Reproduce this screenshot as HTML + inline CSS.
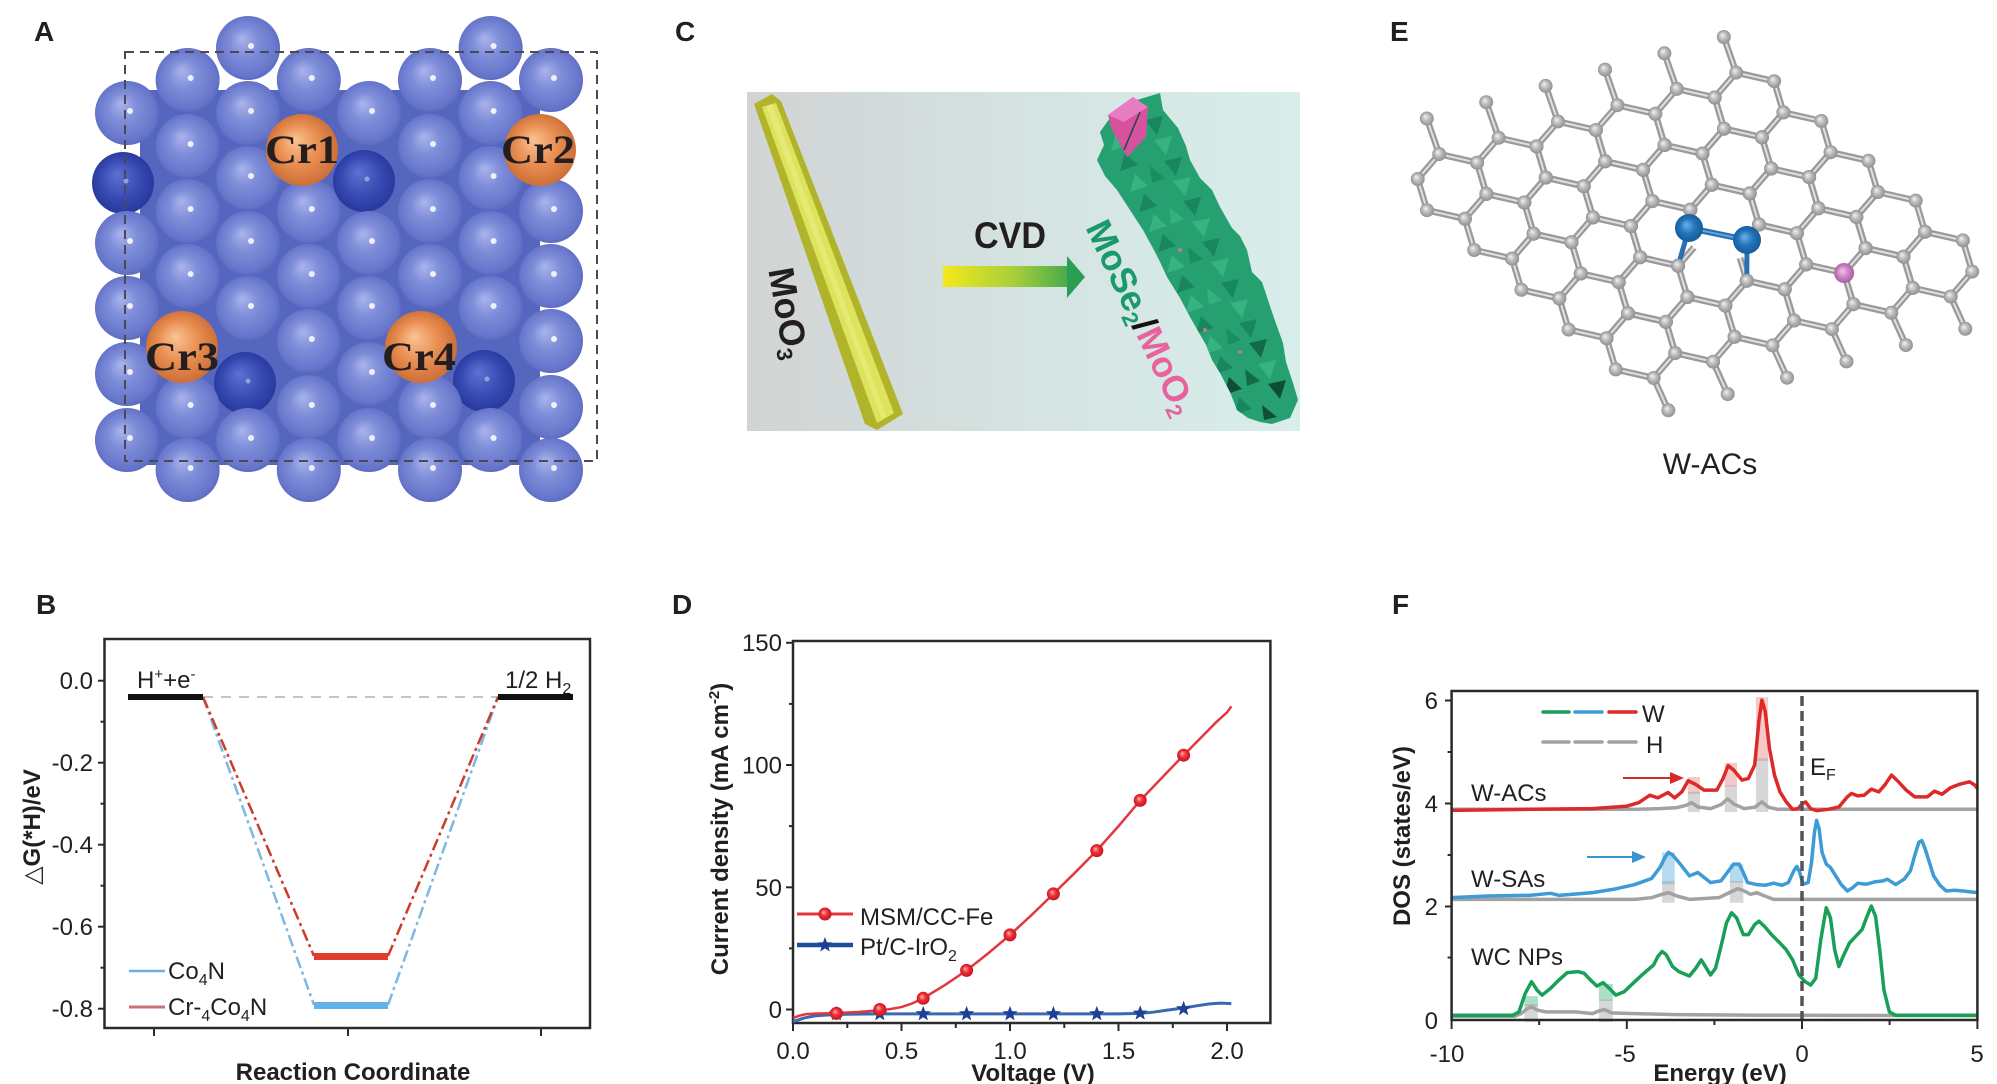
<!DOCTYPE html>
<html><head><meta charset="utf-8"><title>figure</title>
<style>
html,body{margin:0;padding:0;background:#fff;width:1997px;height:1084px;overflow:hidden}
svg{display:block}
text{font-family:"Liberation Sans",Arial,"DejaVu Sans",sans-serif;fill:#231f20}
.lbl{font-size:28px;font-weight:bold}
.tk{font-size:24px}
.ax{font-size:24px;font-weight:bold}
</style></head><body>
<svg width="1997" height="1084" viewBox="0 0 1997 1084" xmlns="http://www.w3.org/2000/svg">
<defs>
<radialGradient id="gB" cx="0.5" cy="0.5" r="0.55" fx="0.4" fy="0.35">
 <stop offset="0" stop-color="#aab4ec"/><stop offset="0.4" stop-color="#7f8ed9"/><stop offset="0.85" stop-color="#6675ca"/><stop offset="1" stop-color="#5262b8"/>
</radialGradient>
<radialGradient id="gD" cx="0.5" cy="0.5" r="0.55" fx="0.4" fy="0.35">
 <stop offset="0" stop-color="#5d72d2"/><stop offset="0.6" stop-color="#3649b2"/><stop offset="1" stop-color="#24369a"/>
</radialGradient>
<radialGradient id="gCr" cx="0.5" cy="0.5" r="0.55" fx="0.4" fy="0.35">
 <stop offset="0" stop-color="#f9c494"/><stop offset="0.5" stop-color="#ea8f52"/><stop offset="1" stop-color="#c86a34"/>
</radialGradient>
<radialGradient id="gAt" cx="0.5" cy="0.5" r="0.55" fx="0.38" fy="0.35">
 <stop offset="0" stop-color="#f2f2f2"/><stop offset="0.5" stop-color="#b8b8b8"/><stop offset="1" stop-color="#8a8a8a"/>
</radialGradient>
<radialGradient id="gW" cx="0.5" cy="0.5" r="0.55" fx="0.4" fy="0.38">
 <stop offset="0" stop-color="#6cb2ea"/><stop offset="0.5" stop-color="#2373b8"/><stop offset="1" stop-color="#135894"/>
</radialGradient>
<radialGradient id="gPk" cx="0.5" cy="0.5" r="0.55" fx="0.4" fy="0.38">
 <stop offset="0" stop-color="#f2c4ec"/><stop offset="0.55" stop-color="#ca80c2"/><stop offset="1" stop-color="#a05a9a"/>
</radialGradient>
<radialGradient id="gRm" cx="0.5" cy="0.5" r="0.55" fx="0.38" fy="0.35">
 <stop offset="0" stop-color="#ffb0b0"/><stop offset="0.45" stop-color="#f03038"/><stop offset="1" stop-color="#c0101c"/>
</radialGradient>
<linearGradient id="gBg" x1="0" x2="1" y1="0" y2="0">
 <stop offset="0" stop-color="#d1d4d4"/><stop offset="0.55" stop-color="#d5e4e2"/><stop offset="1" stop-color="#d8eeeb"/>
</linearGradient>
<linearGradient id="gArr" x1="943" x2="1085" y1="0" y2="0" gradientUnits="userSpaceOnUse">
 <stop offset="0" stop-color="#f4e81c"/><stop offset="0.5" stop-color="#a8cf3a"/><stop offset="1" stop-color="#2a9e52"/>
</linearGradient>
<clipPath id="cBody"><polygon points="1097,160 1104,145 1100,132 1110,118 1125,104 1140,99 1160,93 1163,110 1178,128 1186,146 1190,160 1200,178 1212,190 1220,207 1232,228 1240,236 1247,250 1252,272 1262,282 1267,297 1274,318 1283,343 1286,362 1293,383 1298,400 1290,418 1272,424 1260,422 1248,418 1237,410 1230,392 1220,373 1212,360 1206,345 1190,317 1180,298 1167,277 1160,262 1155,252 1143,230 1130,210 1117,190 1105,176"/></clipPath>
<g id="sb"><circle r="32" fill="url(#gB)"/><circle cx="3" cy="-2" r="3" fill="#fff" opacity="0.85"/></g>
<g id="sd"><circle r="31" fill="url(#gD)"/><circle cx="3" cy="-2" r="2.5" fill="#fff" opacity="0.4"/></g>
<g id="sc"><circle r="36" fill="url(#gCr)"/></g>
<g id="hb"><path d="M-11.8,-33.9 L26.1,-25.3 L35.4,5.9 L13.9,30.8 L-24,22.2 L-33.3,-9 Z" fill="none" stroke="#9a9a9a" stroke-width="6.5" stroke-linejoin="round"/><path d="M-11.8,-33.9 L26.1,-25.3 L35.4,5.9 L13.9,30.8 L-24,22.2 L-33.3,-9 Z" fill="none" stroke="#e0e0e0" stroke-width="2"/></g>
<g id="ha"><circle cx="-11.8" cy="-33.9" r="7" fill="url(#gAt)"/><circle cx="26.1" cy="-25.3" r="7" fill="url(#gAt)"/><circle cx="35.4" cy="5.9" r="7" fill="url(#gAt)"/><circle cx="13.9" cy="30.8" r="7" fill="url(#gAt)"/><circle cx="-24" cy="22.2" r="7" fill="url(#gAt)"/><circle cx="-33.3" cy="-9" r="7" fill="url(#gAt)"/></g>
<g id="tt"><line x1="-11.8" y1="-33.9" x2="-24.2" y2="-69.5" stroke="#9a9a9a" stroke-width="6.5" stroke-linecap="round"/><line x1="-11.8" y1="-33.9" x2="-24.2" y2="-69.5" stroke="#e0e0e0" stroke-width="2"/><circle cx="-24.2" cy="-69.5" r="7" fill="url(#gAt)"/></g>
<g id="tb"><line x1="13.9" y1="30.8" x2="28.5" y2="63.1" stroke="#9a9a9a" stroke-width="6.5" stroke-linecap="round"/><line x1="13.9" y1="30.8" x2="28.5" y2="63.1" stroke="#e0e0e0" stroke-width="2"/><circle cx="28.5" cy="63.1" r="7" fill="url(#gAt)"/></g>
<polygon id="st" points="0,-8 1.98,-2.72 7.61,-2.47 3.2,1.04 4.7,6.47 0,3.36 -4.7,6.47 -3.2,1.04 -7.61,-2.47 -1.98,-2.72" fill="#1d3f96"/>
<circle id="rm" r="6.5" fill="url(#gRm)"/>
</defs>

<rect x="0" y="0" width="1997" height="1084" fill="#fff"/>

<text class="lbl" x="34" y="41">A</text>
<text class="lbl" x="675" y="41">C</text>
<text class="lbl" x="1390" y="41">E</text>
<text class="lbl" x="36" y="614">B</text>
<text class="lbl" x="672" y="614">D</text>
<text class="lbl" x="1392" y="614">F</text>

<!-- ================= Panel A ================= -->
<g>
 <rect x="140" y="90" width="400" height="375" fill="#5566be"/>
 <use href="#sb" x="248" y="48"/><use href="#sb" x="490.6" y="48"/>
 <use href="#sb" x="187.6" y="80"/><use href="#sb" x="308.8" y="80"/><use href="#sb" x="430" y="80"/><use href="#sb" x="551" y="80"/>
 <use href="#sb" x="127" y="113"/><use href="#sb" x="248" y="113"/><use href="#sb" x="369" y="113"/><use href="#sb" x="490.6" y="113"/>
 <use href="#sb" x="187.6" y="146"/><use href="#sb" x="430" y="146"/>
 <use href="#sb" x="248" y="178"/><use href="#sb" x="490.6" y="178"/>
 <use href="#sd" x="123" y="183"/><use href="#sd" x="364" y="181"/>
 <use href="#sb" x="187.6" y="211"/><use href="#sb" x="308.8" y="211"/><use href="#sb" x="430" y="211"/><use href="#sb" x="551" y="211"/>
 <use href="#sb" x="127" y="243"/><use href="#sb" x="248" y="243"/><use href="#sb" x="369" y="243"/><use href="#sb" x="490.6" y="243"/>
 <use href="#sb" x="187.6" y="276"/><use href="#sb" x="308.8" y="276"/><use href="#sb" x="430" y="276"/><use href="#sb" x="551" y="276"/>
 <use href="#sb" x="127" y="308"/><use href="#sb" x="248" y="308"/><use href="#sb" x="369" y="308"/><use href="#sb" x="490.6" y="308"/>
 <use href="#sb" x="308.8" y="341"/><use href="#sb" x="551" y="341"/>
 <use href="#sb" x="127" y="374"/><use href="#sb" x="369" y="374"/>
 <use href="#sd" x="245" y="383"/><use href="#sd" x="484" y="381"/>
 <use href="#sb" x="187.6" y="407"/><use href="#sb" x="308.8" y="407"/><use href="#sb" x="430" y="407"/><use href="#sb" x="551" y="407"/>
 <use href="#sb" x="127" y="440"/><use href="#sb" x="248" y="440"/><use href="#sb" x="369" y="440"/><use href="#sb" x="490.6" y="440"/>
 <use href="#sb" x="187.6" y="470"/><use href="#sb" x="308.8" y="470"/><use href="#sb" x="430" y="470"/><use href="#sb" x="551" y="470"/>
 <use href="#sc" x="302" y="150"/><use href="#sc" x="540" y="150"/><use href="#sc" x="182" y="347"/><use href="#sc" x="421" y="347"/>
</g>
<rect x="125" y="52" width="472" height="409" fill="none" stroke="#4a4a55" stroke-width="2" stroke-dasharray="9 6"/>
<g font-weight="bold" font-size="40" text-anchor="middle">
 <text x="302" y="163" style="font-family:'Liberation Serif',serif" textLength="74" lengthAdjust="spacingAndGlyphs">Cr1</text>
 <text x="538" y="163" style="font-family:'Liberation Serif',serif" textLength="74" lengthAdjust="spacingAndGlyphs">Cr2</text>
 <text x="182" y="370" style="font-family:'Liberation Serif',serif" textLength="74" lengthAdjust="spacingAndGlyphs">Cr3</text>
 <text x="419" y="370" style="font-family:'Liberation Serif',serif" textLength="74" lengthAdjust="spacingAndGlyphs">Cr4</text>
</g>

<!-- ================= Panel C ================= -->
<rect x="747" y="92" width="553" height="339" fill="url(#gBg)"/>
<polygon points="754,104 772,94 781,101 903,414 877,430 865,424" fill="#b1b42a"/>
<polygon points="762,107 776,103 894,413 877,423" fill="#dde35c"/>
<polygon points="766,106 772,104 886,416 882,419" fill="#ecef86" opacity="0.6"/>
<g transform="translate(789,313) rotate(80)">
 <text x="0" y="13" font-size="36" font-weight="bold" text-anchor="middle" fill="#1a1a1a">MoO<tspan font-size="22" dy="6">3</tspan></text>
</g>
<text x="1010" y="248" font-size="37" font-weight="bold" text-anchor="middle" textLength="72" lengthAdjust="spacingAndGlyphs" fill="#1a1a1a">CVD</text>
<rect x="943" y="266" width="126" height="21" fill="url(#gArr)"/>
<polygon points="1067,256 1085,277 1067,298" fill="#2a9e52"/>
<polygon points="1097,160 1104,145 1100,132 1110,118 1125,104 1140,99 1160,93 1163,110 1178,128 1186,146 1190,160 1200,178 1212,190 1220,207 1232,228 1240,236 1247,250 1252,272 1262,282 1267,297 1274,318 1283,343 1286,362 1293,383 1298,400 1290,418 1272,424 1260,422 1248,418 1237,410 1230,392 1220,373 1212,360 1206,345 1190,317 1180,298 1167,277 1160,262 1155,252 1143,230 1130,210 1117,190 1105,176" fill="#27a071"/>
<g clip-path="url(#cBody)" opacity="0.8">
 <polygon points="1145,120 1163,116 1157,135" fill="#16805a"/><polygon points="1111,151 1129,145 1116,133" fill="#3cb887"/>
 <polygon points="1154,140 1172,136 1166,155" fill="#3cb887"/><polygon points="1120,171 1138,165 1125,153" fill="#16805a"/>
 <polygon points="1164,161 1182,157 1176,176" fill="#16805a"/><polygon points="1130,192 1148,186 1135,174" fill="#3cb887"/>
 <polygon points="1173,181 1191,177 1185,196" fill="#3cb887"/><polygon points="1139,212 1157,206 1144,194" fill="#16805a"/>
 <polygon points="1183,201 1201,197 1195,216" fill="#16805a"/><polygon points="1149,232 1167,226 1154,214" fill="#3cb887"/>
 <polygon points="1192,222 1210,218 1204,237" fill="#3cb887"/><polygon points="1158,252 1176,246 1163,234" fill="#16805a"/>
 <polygon points="1202,242 1220,238 1214,257" fill="#16805a"/><polygon points="1167,273 1185,267 1172,255" fill="#3cb887"/>
 <polygon points="1211,262 1229,258 1223,277" fill="#3cb887"/><polygon points="1177,293 1195,287 1182,275" fill="#16805a"/>
 <polygon points="1221,283 1239,279 1233,298" fill="#16805a"/><polygon points="1186,313 1204,307 1191,295" fill="#3cb887"/>
 <polygon points="1230,303 1248,299 1242,318" fill="#3cb887"/><polygon points="1196,334 1214,328 1201,316" fill="#16805a"/>
 <polygon points="1239,323 1257,319 1251,338" fill="#16805a"/><polygon points="1205,354 1223,348 1210,336" fill="#3cb887"/>
 <polygon points="1249,343 1267,339 1261,358" fill="#0f5e3e"/><polygon points="1215,374 1233,368 1220,356" fill="#16805a"/>
 <polygon points="1258,364 1276,360 1270,379" fill="#3cb887"/><polygon points="1224,395 1242,389 1229,377" fill="#0b3a26"/>
 <polygon points="1268,384 1286,380 1280,399" fill="#0b3a26"/><polygon points="1234,415 1252,409 1239,397" fill="#16805a"/>
 <polygon points="1131,126 1146,138 1133,143" fill="#37b585"/><polygon points="1150,166 1165,178 1152,183" fill="#1a8a5c"/>
 <polygon points="1169,207 1184,219 1171,224" fill="#37b585"/><polygon points="1188,247 1203,259 1190,264" fill="#1a8a5c"/>
 <polygon points="1207,288 1222,300 1209,305" fill="#37b585"/><polygon points="1226,328 1241,340 1228,345" fill="#1a8a5c"/>
 <polygon points="1245,369 1260,381 1247,386" fill="#0f5e3e"/><polygon points="1262,405 1277,417 1264,420" fill="#0b3a26"/>
 <circle cx="1180" cy="250" r="2" fill="#e070b0"/><circle cx="1205" cy="330" r="2" fill="#e070b0"/><circle cx="1240" cy="352" r="2" fill="#e070b0"/>
</g>
<polygon points="1108,115 1133,97 1148,107 1146,137 1127,157 1112,130" fill="#d6529f"/>
<polygon points="1108,115 1133,97 1148,107 1124,122" fill="#e87cc0"/>
<line x1="1124" y1="150" x2="1140" y2="112" stroke="#1b4a35" stroke-width="1.5"/>
<g transform="translate(1142,317) rotate(64.6)">
 <text x="0" y="13" font-size="36" font-weight="bold" text-anchor="middle"><tspan fill="#1a9a6a">MoSe</tspan><tspan fill="#1a9a6a" font-size="22" dy="6">2</tspan><tspan fill="#111" dy="-6">/</tspan><tspan fill="#e8639e">MoO</tspan><tspan fill="#e8639e" font-size="22" dy="6">2</tspan></text>
</g>

<!-- ================= Panel E ================= -->
<g>
 <use href="#hb" x="1451" y="188"/><use href="#hb" x="1510.4" y="171.7"/><use href="#hb" x="1569.8" y="155.4"/><use href="#hb" x="1629.2" y="139.1"/><use href="#hb" x="1688.6" y="122.8"/><use href="#hb" x="1748" y="106.5"/>
 <use href="#hb" x="1498.2" y="227.8"/><use href="#hb" x="1557.6" y="211.5"/><use href="#hb" x="1617" y="195.2"/><use href="#hb" x="1676.4" y="178.9"/><use href="#hb" x="1735.8" y="162.6"/><use href="#hb" x="1795.2" y="146.3"/>
 <use href="#hb" x="1545.4" y="267.6"/><use href="#hb" x="1604.8" y="251.3"/><use href="#hb" x="1664.2" y="235"/><use href="#hb" x="1723.6" y="218.7"/><use href="#hb" x="1783" y="202.4"/><use href="#hb" x="1842.4" y="186.1"/>
 <use href="#hb" x="1592.6" y="307.4"/><use href="#hb" x="1652" y="291.1"/><use href="#hb" x="1711.4" y="274.8"/><use href="#hb" x="1770.8" y="258.5"/><use href="#hb" x="1830.2" y="242.2"/><use href="#hb" x="1889.6" y="225.9"/>
 <use href="#hb" x="1639.8" y="347.2"/><use href="#hb" x="1699.2" y="330.9"/><use href="#hb" x="1758.6" y="314.6"/><use href="#hb" x="1818" y="298.3"/><use href="#hb" x="1877.4" y="282"/><use href="#hb" x="1936.8" y="265.7"/>
 <use href="#tt" x="1451" y="188"/><use href="#tt" x="1510.4" y="171.7"/><use href="#tt" x="1569.8" y="155.4"/><use href="#tt" x="1629.2" y="139.1"/><use href="#tt" x="1688.6" y="122.8"/><use href="#tt" x="1748" y="106.5"/>
 <use href="#tb" x="1639.8" y="347.2"/><use href="#tb" x="1699.2" y="330.9"/><use href="#tb" x="1758.6" y="314.6"/><use href="#tb" x="1818" y="298.3"/><use href="#tb" x="1877.4" y="282"/><use href="#tb" x="1936.8" y="265.7"/>
 <use href="#ha" x="1451" y="188"/><use href="#ha" x="1510.4" y="171.7"/><use href="#ha" x="1569.8" y="155.4"/><use href="#ha" x="1629.2" y="139.1"/><use href="#ha" x="1688.6" y="122.8"/><use href="#ha" x="1748" y="106.5"/>
 <use href="#ha" x="1498.2" y="227.8"/><use href="#ha" x="1557.6" y="211.5"/><use href="#ha" x="1617" y="195.2"/><use href="#ha" x="1676.4" y="178.9"/><use href="#ha" x="1735.8" y="162.6"/><use href="#ha" x="1795.2" y="146.3"/>
 <use href="#ha" x="1545.4" y="267.6"/><use href="#ha" x="1604.8" y="251.3"/><use href="#ha" x="1664.2" y="235"/><use href="#ha" x="1723.6" y="218.7"/><use href="#ha" x="1783" y="202.4"/><use href="#ha" x="1842.4" y="186.1"/>
 <use href="#ha" x="1592.6" y="307.4"/><use href="#ha" x="1652" y="291.1"/><use href="#ha" x="1711.4" y="274.8"/><use href="#ha" x="1770.8" y="258.5"/><use href="#ha" x="1830.2" y="242.2"/><use href="#ha" x="1889.6" y="225.9"/>
 <use href="#ha" x="1639.8" y="347.2"/><use href="#ha" x="1699.2" y="330.9"/><use href="#ha" x="1758.6" y="314.6"/><use href="#ha" x="1818" y="298.3"/><use href="#ha" x="1877.4" y="282"/><use href="#ha" x="1936.8" y="265.7"/>
 <path d="M1699.6,240.9 L1737.5,249.5" stroke="#fff" stroke-width="10"/>
 <circle cx="1699.6" cy="240.9" r="9" fill="#fff"/><circle cx="1737.5" cy="249.5" r="9" fill="#fff"/>
 <g stroke-linecap="round">
  <line x1="1689" y1="228" x2="1690.3" y2="209.7" stroke="#2a6fb2" stroke-width="5"/>
  <line x1="1689" y1="228" x2="1678.1" y2="265.8" stroke="#2a6fb2" stroke-width="5"/>
  <line x1="1747" y1="240" x2="1759" y2="224.6" stroke="#2a6fb2" stroke-width="5"/>
  <line x1="1747" y1="240" x2="1746.8" y2="280.7" stroke="#2a6fb2" stroke-width="5"/>
  <line x1="1689" y1="228" x2="1747" y2="240" stroke="#2a6fb2" stroke-width="6"/>
  <line x1="1689" y1="228" x2="1747" y2="240" stroke="#6aa8e0" stroke-width="1.8"/>
 </g>
 <circle cx="1690.3" cy="209.7" r="7" fill="url(#gAt)"/><circle cx="1678.1" cy="265.8" r="7" fill="url(#gAt)"/>
 <circle cx="1759" cy="224.6" r="7" fill="url(#gAt)"/><circle cx="1746.8" cy="280.7" r="7" fill="url(#gAt)"/>
 <circle cx="1689" cy="228" r="14" fill="url(#gW)"/><circle cx="1747" cy="240" r="14" fill="url(#gW)"/>
 <circle cx="1844.1" cy="273" r="10" fill="url(#gPk)"/>
</g>
<text x="1710" y="474" font-size="30" text-anchor="middle">W-ACs</text>

<!-- ================= Panel B ================= -->
<g>
 <rect x="104.5" y="639" width="485.5" height="389" fill="none" stroke="#2a2a2a" stroke-width="2.5"/>
 <g stroke="#2a2a2a" stroke-width="2">
  <line x1="98" y1="680.7" x2="104.5" y2="680.7"/><line x1="98" y1="762.7" x2="104.5" y2="762.7"/>
  <line x1="98" y1="844.7" x2="104.5" y2="844.7"/><line x1="98" y1="926.7" x2="104.5" y2="926.7"/>
  <line x1="98" y1="1008.7" x2="104.5" y2="1008.7"/>
  <line x1="100.5" y1="721.7" x2="104.5" y2="721.7"/><line x1="100.5" y1="803.7" x2="104.5" y2="803.7"/>
  <line x1="100.5" y1="885.7" x2="104.5" y2="885.7"/><line x1="100.5" y1="967.7" x2="104.5" y2="967.7"/>
  <line x1="154" y1="1028" x2="154" y2="1036"/><line x1="348" y1="1028" x2="348" y2="1036"/><line x1="541" y1="1028" x2="541" y2="1036"/>
 </g>
 <text class="tk" x="93" y="689.2" text-anchor="end">0.0</text>
 <text class="tk" x="93" y="771.2" text-anchor="end">-0.2</text>
 <text class="tk" x="93" y="853.2" text-anchor="end">-0.4</text>
 <text class="tk" x="93" y="935.2" text-anchor="end">-0.6</text>
 <text class="tk" x="93" y="1017.2" text-anchor="end">-0.8</text>
 <text class="ax" transform="translate(40,827) rotate(-90)" text-anchor="middle">△G(*H)/eV</text>
 <text class="ax" x="353" y="1080" text-anchor="middle">Reaction Coordinate</text>
 <line x1="203" y1="697" x2="498" y2="697" stroke="#c4c4c4" stroke-width="2" stroke-dasharray="10 8"/>
 <g fill="none" stroke-width="2.5" stroke-dasharray="12 4 3 4">
  <path d="M203,697 L314,1005 M388,1005 L498,697" stroke="#7cb8e2"/>
  <path d="M203,697 L314,956 M388,956 L498,697" stroke="#cc3b2b"/>
 </g>
 <rect x="128" y="694" width="75" height="6" fill="#111"/>
 <rect x="498" y="694" width="75" height="6" fill="#111"/>
 <rect x="314" y="953" width="74" height="7" fill="#e03c2e"/>
 <rect x="314" y="1002" width="74" height="7" fill="#62b4e8"/>
 <text class="tk" x="137" y="688">H<tspan font-size="15" dy="-9">+</tspan><tspan dy="9">+e</tspan><tspan font-size="15" dy="-9">-</tspan></text>
 <text class="tk" x="505" y="688">1/2 H<tspan font-size="16" dy="6">2</tspan></text>
 <line x1="129" y1="971" x2="165" y2="971" stroke="#6ab0e0" stroke-width="2.5"/>
 <text class="tk" x="168" y="979">Co<tspan font-size="16" dy="6">4</tspan><tspan dy="-6">N</tspan></text>
 <line x1="129" y1="1007" x2="165" y2="1007" stroke="#c87272" stroke-width="3"/>
 <text class="tk" x="168" y="1015">Cr-<tspan font-size="16" dy="6">4</tspan><tspan dy="-6">Co</tspan><tspan font-size="16" dy="6">4</tspan><tspan dy="-6">N</tspan></text>
</g>

<!-- ================= Panel D ================= -->
<g>
 <rect x="793" y="641" width="477.4" height="382" fill="none" stroke="#2a2a2a" stroke-width="2.5"/>
 <g stroke="#2a2a2a" stroke-width="2">
  <line x1="786" y1="1009.5" x2="793" y2="1009.5"/><line x1="786" y1="887.3" x2="793" y2="887.3"/>
  <line x1="786" y1="765" x2="793" y2="765"/><line x1="786" y1="642.8" x2="793" y2="642.8"/>
  <line x1="789" y1="948.4" x2="793" y2="948.4"/><line x1="789" y1="826.1" x2="793" y2="826.1"/><line x1="789" y1="703.9" x2="793" y2="703.9"/>
  <line x1="793" y1="1023" x2="793" y2="1031"/><line x1="901.5" y1="1023" x2="901.5" y2="1031"/>
  <line x1="1010" y1="1023" x2="1010" y2="1031"/><line x1="1118.5" y1="1023" x2="1118.5" y2="1031"/>
  <line x1="1227" y1="1023" x2="1227" y2="1031"/>
  <line x1="847.3" y1="1023" x2="847.3" y2="1028"/><line x1="955.8" y1="1023" x2="955.8" y2="1028"/>
  <line x1="1064.3" y1="1023" x2="1064.3" y2="1028"/><line x1="1172.8" y1="1023" x2="1172.8" y2="1028"/>
 </g>
 <text class="tk" x="782" y="651" text-anchor="end">150</text>
 <text class="tk" x="782" y="773.5" text-anchor="end">100</text>
 <text class="tk" x="782" y="896" text-anchor="end">50</text>
 <text class="tk" x="782" y="1018" text-anchor="end">0</text>
 <text class="tk" x="793" y="1059" text-anchor="middle">0.0</text>
 <text class="tk" x="901.5" y="1059" text-anchor="middle">0.5</text>
 <text class="tk" x="1010" y="1059" text-anchor="middle">1.0</text>
 <text class="tk" x="1118.5" y="1059" text-anchor="middle">1.5</text>
 <text class="tk" x="1227" y="1059" text-anchor="middle">2.0</text>
 <text class="ax" x="1033" y="1081" text-anchor="middle">Voltage (V)</text>
 <text class="ax" transform="translate(728,829) rotate(-90)" text-anchor="middle">Current density (mA cm<tspan font-size="15" dy="-9">-2</tspan><tspan dy="9">)</tspan></text>
 <g transform="matrix(217 0 0 -2.445 793 1009.5)" fill="none">
  <path vector-effect="non-scaling-stroke" stroke="#3b68b3" stroke-width="3" d="M0,-5 L0.05,-3.5 L0.1,-2.6 L0.2,-2 L0.4,-1.8 L1.5,-1.8 L1.6,-1.6 L1.66,-1.1 L1.72,-0.3 L1.8,0.6 L1.86,1.5 L1.92,2.3 L1.97,2.6 L2.02,2.4"/>
  <path vector-effect="non-scaling-stroke" stroke="#e4363e" stroke-width="2.5" d="M0,-3.5 L0.03,-2.5 L0.06,-1.9 L0.1,-1.7 L0.2,-1.5 L0.3,-1 L0.4,-0.3 L0.45,0.2 L0.5,1 L0.55,2.5 L0.6,4.6 L0.7,10 L0.8,16 L0.9,23 L1.0,30.5 L1.1,38.7 L1.2,47.3 L1.3,56 L1.4,65 L1.5,75 L1.6,85.5 L1.7,94.8 L1.8,104 L1.9,113 L1.95,117.5 L2.0,121.5 L2.02,124"/>
 </g>
 <use href="#st" x="836.4" y="1013.9"/><use href="#st" x="879.8" y="1013.9"/><use href="#st" x="923.2" y="1013.9"/>
 <use href="#st" x="966.6" y="1013.9"/><use href="#st" x="1010" y="1013.9"/><use href="#st" x="1053.4" y="1013.9"/>
 <use href="#st" x="1096.8" y="1013.9"/><use href="#st" x="1140.2" y="1013.2"/><use href="#st" x="1183.6" y="1008.8"/>
 <use href="#rm" x="836.4" y="1013.4"/><use href="#rm" x="879.8" y="1009.5"/><use href="#rm" x="923.2" y="998.3"/>
 <use href="#rm" x="966.6" y="970.4"/><use href="#rm" x="1010" y="934.9"/><use href="#rm" x="1053.4" y="893.9"/>
 <use href="#rm" x="1096.8" y="850.6"/><use href="#rm" x="1140.2" y="800.4"/><use href="#rm" x="1183.6" y="755.2"/>
 <line x1="797" y1="914" x2="853" y2="914" stroke="#e4363e" stroke-width="3"/>
 <line x1="797" y1="945" x2="853" y2="945" stroke="#1c4f9c" stroke-width="4.5"/>
 <use href="#rm" x="825" y="914"/>
 <use href="#st" x="825" y="945"/>
 <text class="tk" x="860" y="925">MSM/CC-Fe</text>
 <text class="tk" x="860" y="955">Pt/C-IrO<tspan font-size="16" dy="6">2</tspan></text>
</g>

<!-- ================= Panel F ================= -->
<g>
 <g transform="matrix(0.421 0 0 0.336 1340 560)">
  <rect x="826" y="646" width="29" height="50" fill="#e86060" opacity="0.35"/>
  <rect x="826" y="690" width="29" height="60" fill="#9a9a9a" opacity="0.4"/>
  <rect x="914" y="604" width="29" height="70" fill="#e86060" opacity="0.35"/>
  <rect x="914" y="670" width="29" height="80" fill="#9a9a9a" opacity="0.4"/>
  <rect x="988" y="408" width="29" height="190" fill="#e86060" opacity="0.35"/>
  <rect x="988" y="590" width="29" height="160" fill="#9a9a9a" opacity="0.4"/>
  <rect x="765" y="870" width="30" height="95" fill="#5ab0e0" opacity="0.45"/>
  <rect x="765" y="955" width="30" height="65" fill="#9a9a9a" opacity="0.4"/>
  <rect x="926" y="905" width="32" height="55" fill="#5ab0e0" opacity="0.45"/>
  <rect x="926" y="955" width="32" height="65" fill="#9a9a9a" opacity="0.4"/>
  <rect x="438" y="1298" width="32" height="30" fill="#30b070" opacity="0.4"/>
  <rect x="438" y="1322" width="32" height="53" fill="#9a9a9a" opacity="0.4"/>
  <rect x="615" y="1262" width="33" height="50" fill="#30b070" opacity="0.4"/>
  <rect x="615" y="1308" width="33" height="67" fill="#9a9a9a" opacity="0.4"/>
  <g fill="none" stroke-width="3.5" stroke-linejoin="round">
   <path vector-effect="non-scaling-stroke" stroke="#a2a2a2" d="M265,742 L700,742 L760,740 L800,737 L822,730 L835,722 L850,735 L880,740 L905,728 L921,711 L935,726 L960,740 L985,736 L1002,720 L1018,736 L1040,742 L1515,742"/>
   <path vector-effect="non-scaling-stroke" stroke="#dc2a2a" d="M265,745 L450,742 L600,740 L680,733 L710,722 L736,700 L755,708 L779,692 L795,708 L812,690 L827,657 L845,668 L865,685 L895,685 L910,650 L922,612 L935,625 L955,655 L970,650 L985,610 L995,480 L1002,417 L1010,450 L1020,560 L1032,640 L1045,690 L1060,720 L1075,742 L1088,740 L1098,725 L1106,720 L1118,740 L1132,746 L1160,742 L1185,735 L1205,705 L1215,695 L1230,702 L1245,700 L1262,682 L1280,690 L1295,668 L1310,640 L1325,658 L1345,685 L1365,705 L1395,705 L1412,688 L1430,697 L1450,678 L1470,668 L1495,660 L1508,670 L1515,682"/>
   <path vector-effect="non-scaling-stroke" stroke="#a2a2a2" d="M265,1010 L700,1010 L740,1005 L765,995 L780,990 L800,1000 L830,1010 L900,1005 L925,990 L945,978 L960,985 L975,995 L990,990 L1005,998 L1030,1010 L1515,1010"/>
   <path vector-effect="non-scaling-stroke" stroke="#3d9bd5" d="M265,1005 L350,1000 L450,998 L500,992 L520,998 L600,990 L650,980 L700,966 L740,948 L760,915 L772,885 L780,870 L790,878 L805,900 L830,940 L850,930 L865,945 L880,960 L905,955 L920,930 L935,905 L948,905 L958,930 L968,960 L990,966 L1010,968 L1030,962 L1050,968 L1065,960 L1078,925 L1085,912 L1092,930 L1100,965 L1112,960 L1120,900 L1127,810 L1132,775 L1138,800 L1145,870 L1155,905 L1165,915 L1175,935 L1190,965 L1205,985 L1218,975 L1230,962 L1250,965 L1270,958 L1290,955 L1300,950 L1320,966 L1340,950 L1355,925 L1365,880 L1375,840 L1382,835 L1390,860 L1400,900 L1410,940 L1425,968 L1440,985 L1460,983 L1480,985 L1500,988 L1515,990"/>
   <path vector-effect="non-scaling-stroke" stroke="#a2a2a2" d="M265,1358 L415,1358 L430,1350 L445,1335 L455,1330 L470,1340 L490,1345 L560,1345 L600,1350 L615,1342 L628,1338 L645,1348 L700,1350 L800,1353 L1000,1355 L1515,1356"/>
   <path vector-effect="non-scaling-stroke" stroke="#18a058" d="M265,1355 L410,1355 L425,1345 L440,1290 L455,1255 L468,1280 L480,1295 L500,1275 L520,1250 L540,1228 L565,1225 L580,1230 L595,1250 L610,1268 L625,1258 L640,1275 L655,1295 L675,1285 L700,1255 L720,1232 L745,1205 L755,1180 L765,1165 L775,1175 L790,1210 L805,1225 L830,1238 L845,1215 L858,1190 L868,1210 L880,1235 L892,1215 L905,1150 L918,1080 L930,1050 L942,1065 L958,1115 L970,1115 L985,1085 L995,1075 L1008,1090 L1025,1115 L1045,1140 L1060,1160 L1075,1190 L1090,1235 L1105,1255 L1118,1265 L1130,1245 L1142,1130 L1155,1035 L1165,1065 L1175,1160 L1185,1210 L1195,1180 L1210,1140 L1225,1120 L1240,1100 L1252,1060 L1262,1030 L1272,1060 L1282,1160 L1292,1280 L1305,1345 L1320,1355 L1515,1355"/>
  </g>
 </g>
 <line x1="1802" y1="696" x2="1802" y2="1020" stroke="#555" stroke-width="3.5" stroke-dasharray="10 5"/>
 <rect x="1451.6" y="691" width="525.8" height="329" fill="none" stroke="#2a2a2a" stroke-width="2.5"/>
 <g stroke="#2a2a2a" stroke-width="2">
  <line x1="1445" y1="700.5" x2="1451.6" y2="700.5"/><line x1="1445" y1="803.5" x2="1451.6" y2="803.5"/><line x1="1445" y1="906.5" x2="1451.6" y2="906.5"/>
  <line x1="1447.6" y1="752" x2="1451.6" y2="752"/><line x1="1447.6" y1="855" x2="1451.6" y2="855"/><line x1="1447.6" y1="957.5" x2="1451.6" y2="957.5"/>
  <line x1="1451.6" y1="1020" x2="1451.6" y2="1029"/><line x1="1626.8" y1="1020" x2="1626.8" y2="1029"/>
  <line x1="1802" y1="1020" x2="1802" y2="1029"/><line x1="1977.4" y1="1020" x2="1977.4" y2="1029"/>
  <line x1="1539.2" y1="1020" x2="1539.2" y2="1025"/><line x1="1714.4" y1="1020" x2="1714.4" y2="1025"/><line x1="1889.6" y1="1020" x2="1889.6" y2="1025"/>
 </g>
 <text class="tk" x="1438" y="709" text-anchor="end">6</text>
 <text class="tk" x="1438" y="812" text-anchor="end">4</text>
 <text class="tk" x="1438" y="915" text-anchor="end">2</text>
 <text class="tk" x="1438" y="1029" text-anchor="end">0</text>
 <text class="tk" x="1447" y="1062" text-anchor="middle">-10</text>
 <text class="tk" x="1625" y="1062" text-anchor="middle">-5</text>
 <text class="tk" x="1802" y="1062" text-anchor="middle">0</text>
 <text class="tk" x="1977" y="1062" text-anchor="middle">5</text>
 <text class="ax" x="1720" y="1081" text-anchor="middle">Energy (eV)</text>
 <text class="ax" transform="translate(1410,836) rotate(-90)" text-anchor="middle">DOS (states/eV)</text>
 <g stroke-width="3.5" stroke-linecap="round">
  <line x1="1543" y1="712" x2="1569" y2="712" stroke="#18a058"/>
  <line x1="1575" y1="712" x2="1602" y2="712" stroke="#3d9bd5"/>
  <line x1="1609" y1="712" x2="1636" y2="712" stroke="#dc2a2a"/>
  <line x1="1543" y1="742" x2="1569" y2="742" stroke="#a2a2a2"/>
  <line x1="1575" y1="742" x2="1602" y2="742" stroke="#a2a2a2"/>
  <line x1="1609" y1="742" x2="1636" y2="742" stroke="#a2a2a2"/>
 </g>
 <text class="tk" x="1642" y="722">W</text>
 <text class="tk" x="1646" y="753">H</text>
 <text class="tk" x="1471" y="801">W-ACs</text>
 <text class="tk" x="1471" y="887">W-SAs</text>
 <text class="tk" x="1471" y="965">WC NPs</text>
 <text class="tk" x="1810" y="775">E<tspan font-size="16" dy="5">F</tspan></text>
 <line x1="1623" y1="778" x2="1672" y2="778" stroke="#d42a2a" stroke-width="2"/>
 <polygon points="1670,772 1684,778 1670,784" fill="#d42a2a"/>
 <line x1="1587" y1="857" x2="1634" y2="857" stroke="#3a95cc" stroke-width="2"/>
 <polygon points="1632,851 1646,857 1632,863" fill="#3a95cc"/>
</g>
</svg>
</body></html>
